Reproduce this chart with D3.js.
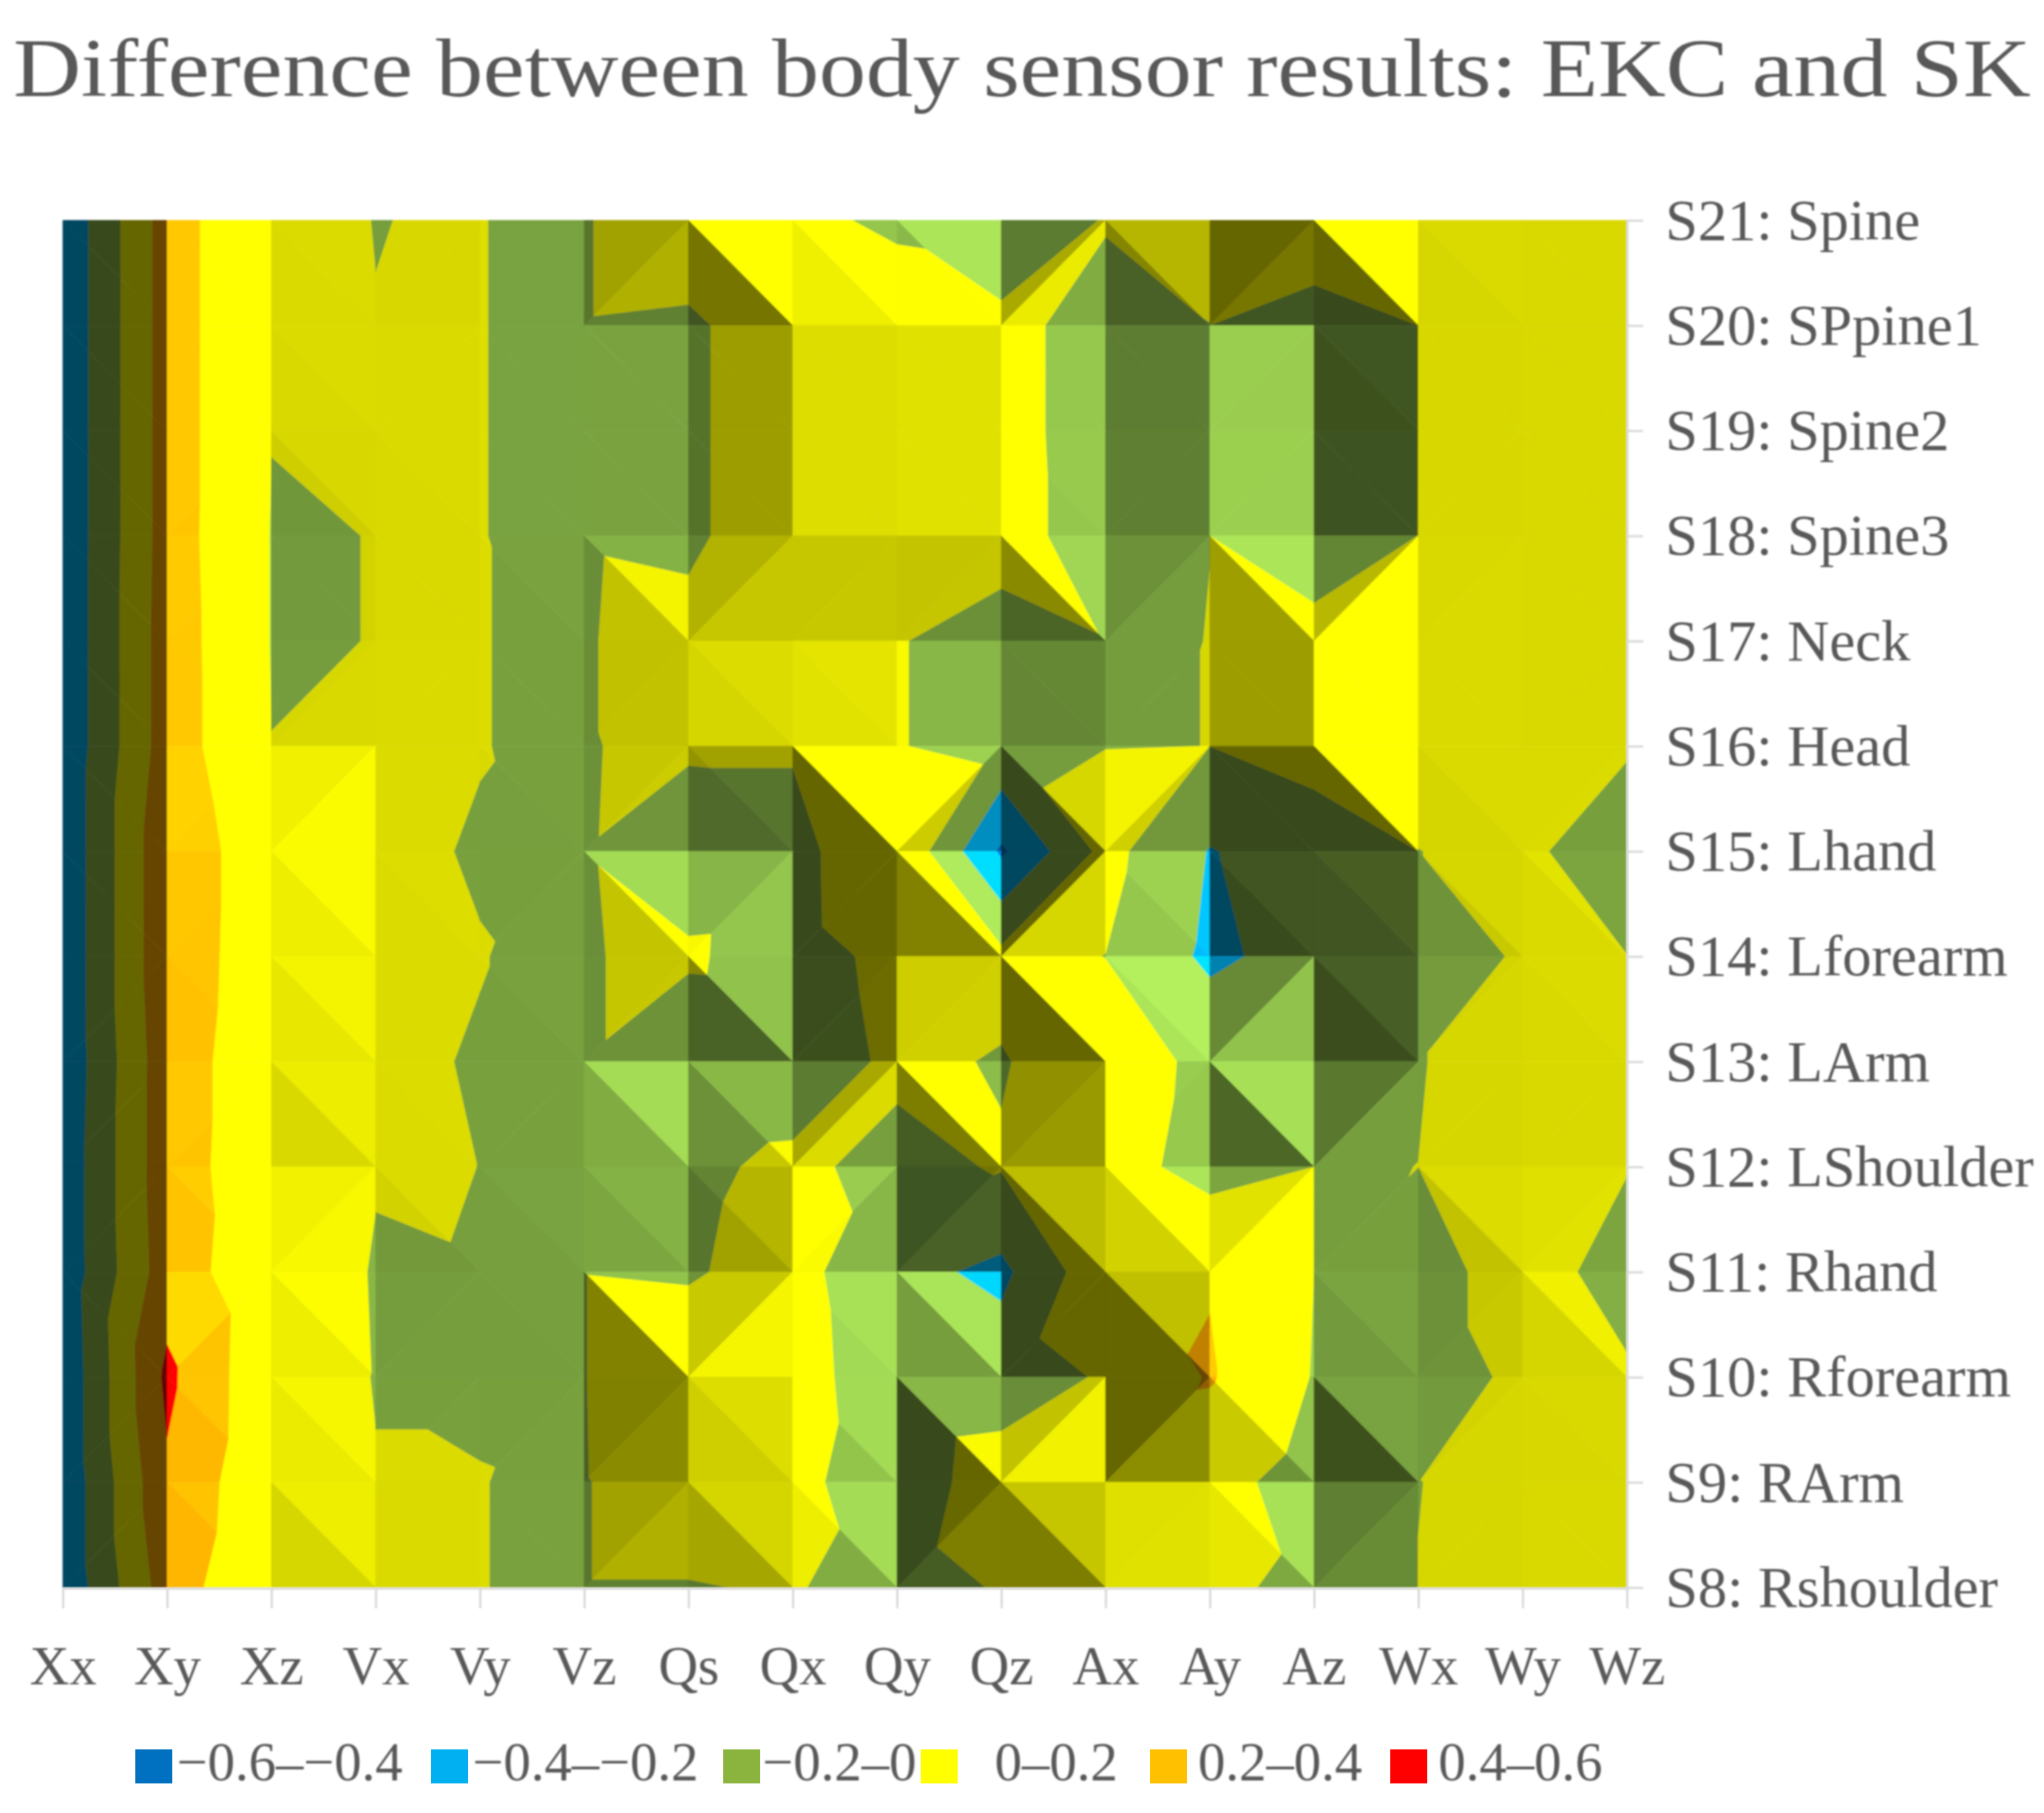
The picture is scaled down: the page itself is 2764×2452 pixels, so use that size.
<!DOCTYPE html>
<html>
<head>
<meta charset="utf-8">
<script src="https://cdn.jsdelivr.net/npm/d3@7"></script>
<style>
  html, body { margin: 0; padding: 0; background: #fff; }
  text { font-family: "Liberation Serif", "DejaVu Serif", serif; fill: #595959; }
</style>
</head>
<body>
<div id="chart"></div>
<script>
// Datos
const channels = ['Xx','Xy','Xz','Vx','Vy','Vz','Qs','Qx','Qy','Qz','Ax','Ay','Az','Wx','Wy','Wz'];
const sensors = ['S21: Spine','S20: SPpine1','S19: Spine2','S18: Spine3','S17: Neck','S16: Head','S15: Lhand',
  'S14: Lforearm','S13: LArm','S12: LShoulder','S11: Rhand','S10: Rforearm','S9: RArm','S8: Rshoulder'];

const s21 = [-.36,.29,.002,-.0001,.0005,-.006,.06,.02,-.015,-.13,.01,.03,.19,.003,.002,.002];
const s20 = [-.36,.29,.002,.0001,.0005,-.006,-.015,.055,.05,.04,-.055,-.001,-.12,.0005,.002,.002];
const s19 = [-.36,.29,.002,.002,.0005,-.006,-.015,.055,.05,.04,-.055,-.001,-.125,.0005,.002,.002];
const s18 = [-.36,.29,-.006,.001,.0005,-.006,-.015,.055,.05,.04,-.05,-.0001,-.125,.001,.002,.002];
const s17 = [-.36,.30,-.006,.001,.0005,-.004,.025,.02,.005,-.04,-.003,.0002,.07,.003,.002,.002];
const s16 = [-.36,.30,.001,.002,.0005,-.004,.018,.018,.005,-.04,-.002,.0002,.07,.003,.002,.001];
const s15 = [-.36,.36,.05,.003,-.001,-.003,-.08,-.07,.19,-.43,.06,-.21,-.1,-.0001,.002,-.006];
const s14 = [-.36,.36,.04,.003,.0005,-.005,.019,-.075,.05,.05,-.002,-.24,-.12,-.01,.002,.0001];
const s13 = [-.36,.33,.03,.003,-.001,-.005,-.1,-.09,.03,-.01,.09,-.042,-.13,-.0002,.002,.002];
const s12 = [-.34,.33,.015,.003,-.0001,-.005,-.03,.03,-.045,.012,.08,-.07,-.0002,.00001,.002,.001];
const s11 = [-.34,.31,.045,-.004,-.0012,-.003,-.015,.06,-.14,-.245,.145,.19,-.0001,-.01,.011,-.01];
const s10 = [-.36,.44,.035,-.002,-.002,-.003,.1,.07,-.106,-.085,.017,.215,-.01,-.01,.004,.003];
const s9  = [-.36,.37,.03,.002,.0005,-.005,.06,.04,-.09,.08,.09,.065,-.08,-.0001,.002,.002];
const s8  = [-.36,.30,.012,.002,.0005,-.005,-.005,.008,-.05,.009,.07,.025,-.03,.0001,.002,.002];
const rows = [s21,s20,s19,s18,s17,s16,s15,s14,s13,s12,s11,s10,s9,s8];

const thresholds = [-.6,-.4,-.2,0,.2,.4,.6];
const bandLabels = ['\u22120.6\u2013\u22120.4','\u22120.4\u2013\u22120.2','\u22120.2\u20130','0\u20130.2','0.2\u20130.4','0.4\u20130.6'];
const bandColors = ['#0070C0','#00B0F0','#8BBA48','#FFFF00','#FFAA00','#FF0000'];
const legendColors = ['#0070C0','#00B0F0','#8BB43F','#FFFF00','#FFC000','#FF0000'];

const width = 2764, height = 2452;
const svg = d3.select('#chart').append('svg').attr('width', width).attr('height', height);

const defs = svg.append('defs');
defs.append('filter').attr('id', 'soft').attr('x', '-2%').attr('y', '-2%').attr('width', '104%').attr('height', '104%')
  .append('feGaussianBlur').attr('stdDeviation', 1.2);
defs.append('filter').attr('id', 'softText').attr('x', '-2%').attr('y', '-5%').attr('width', '104%').attr('height', '110%')
  .append('feGaussianBlur').attr('stdDeviation', 0.9);

const x = d3.scalePoint().domain(channels).range([85, 2200]);
const y = d3.scalePoint().domain(sensors).range([298, 2147]);

// Luz de la superficie (arriba a la derecha)
const light = { x: .7, y: -.5, z: .5 }, zScale = 5;

function shade(a, b, c) {
  const ux = b.c - a.c, uy = b.r - a.r, uz = (b.z - a.z) * zScale;
  const vx = c.c - a.c, vy = c.r - a.r, vz = (c.z - a.z) * zScale;
  let nx = uy * vz - uz * vy, ny = uz * vx - ux * vz, nz = ux * vy - uy * vx;
  if (nz < 0) { nx = -nx; ny = -ny; nz = -nz; }
  const len = Math.hypot(nx, ny, nz);
  const dot = (nx * light.x + ny * light.y + nz * light.z) / len;
  return .4 + .9 * Math.max(0, dot);
}

// Recorta un triangulo a un rango de valores
function clip(poly, test, level) {
  const out = [];
  poly.forEach((p, i) => {
    const q = poly[(i + 1) % poly.length];
    const pIn = test(p.z), qIn = test(q.z);
    if (pIn) out.push(p);
    if (pIn !== qIn) {
      const t = (level - p.z) / (q.z - p.z);
      out.push({ c: p.c + t * (q.c - p.c), r: p.r + t * (q.r - p.r), z: level });
    }
  });
  return out;
}

const colStep = x.step(), rowStep = y.step();
const px = d => x(channels[0]) + d.c * colStep;
const py = d => y(sensors[0]) + d.r * rowStep;
const path = d3.line().x(px).y(py);

const triangles = [];
d3.range(rows.length - 1).forEach(r => {
  d3.range(channels.length - 1).forEach(c => {
    const tl = { c, r, z: rows[r][c] }, tr = { c: c + 1, r, z: rows[r][c + 1] };
    const bl = { c, r: r + 1, z: rows[r + 1][c] }, br = { c: c + 1, r: r + 1, z: rows[r + 1][c + 1] };
    // La diagonal une las dos esquinas mas altas
    if (tl.z + br.z >= tr.z + bl.z) triangles.push([tl, tr, br], [tl, bl, br]);
    else triangles.push([tl, tr, bl], [tr, bl, br]);
  });
});

const surface = svg.append('g').attr('filter', 'url(#soft)');
triangles.forEach(tri => {
  const s = shade(tri[0], tri[1], tri[2]);
  d3.range(bandColors.length).forEach(i => {
    let poly = clip(tri, z => z >= thresholds[i], thresholds[i]);
    if (poly.length) poly = clip(poly, z => z <= thresholds[i + 1], thresholds[i + 1]);
    if (poly.length < 3) return;
    const base = d3.rgb(bandColors[i]);
    const col = d3.rgb(base.r * s, base.g * s, base.b * s).clamp().formatHex();
    surface.append('path')
      .attr('d', path(poly) + 'Z')
      .attr('fill', col)
      .attr('stroke', col)
      .attr('stroke-width', .7);
  });
});

// Ejes
const axisX = svg.append('g').attr('transform', 'translate(0,2148)')
  .call(d3.axisBottom(x).tickSize(27).tickPadding(50));
const axisY = svg.append('g').attr('transform', 'translate(2200,0)')
  .call(d3.axisRight(y).tickSize(22).tickPadding(30));
[axisX, axisY].forEach(a => {
  a.select('.domain').attr('stroke', '#D9D9D9').attr('stroke-width', 3);
  a.selectAll('.tick line').attr('stroke', '#D9D9D9').attr('stroke-width', 3);
  a.attr('filter', 'url(#softText)');
});
axisX.selectAll('text').attr('font-size', 74).attr('font-family', '"Liberation Serif"').attr('fill', '#595959');
axisY.selectAll('text').attr('font-size', 79).attr('font-family', '"Liberation Serif"').attr('fill', '#595959');

// Titulo
svg.append('text')
  .attr('x', 18).attr('y', 130)
  .attr('font-size', 112)
  .attr('textLength', 2728)
  .attr('lengthAdjust', 'spacingAndGlyphs')
  .attr('filter', 'url(#softText)')
  .text('Difference between body sensor results: EKC and SK');

// Leyenda
const legendX = d3.scaleOrdinal().domain(bandLabels).range([183, 583, 978, 1245, 1555, 1880]);
const labelGap = [56, 56, 53, 100, 65, 65];
const legend = svg.append('g').selectAll('g').data(bandLabels).enter().append('g')
  .attr('transform', d => `translate(${legendX(d)},2366)`);
legend.append('rect')
  .attr('width', 50).attr('height', 46)
  .attr('fill', (d, i) => legendColors[i]);
legend.append('text')
  .attr('x', (d, i) => labelGap[i]).attr('y', 42)
  .attr('font-size', 74)
  .attr('filter', 'url(#softText)')
  .text(d => d);
</script>
</body>
</html>
